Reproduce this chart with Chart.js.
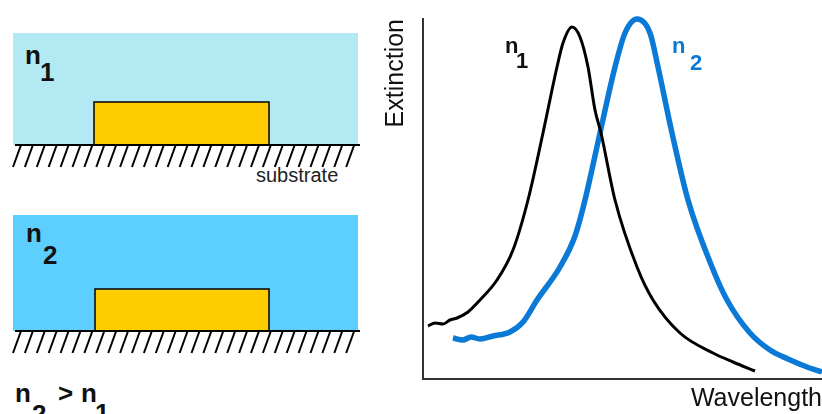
<!DOCTYPE html>
<html lang="en">
<head>
    <meta charset="UTF-8">
    <title>Plasmon Extinction vs Refractive Index</title>
    <script src="https://cdn.jsdelivr.net/npm/chart.js"></script>
    <style>
        body {
            margin: 0;
            background: #fff;
            font-family: "Liberation Sans", Arial, sans-serif;
        }

        .page {
            position: relative;
            width: 822px;
            height: 414px;
            overflow: hidden;
        }

        .sketch {
            position: absolute;
            left: 0;
            top: 0;
        }

        .overlay {
            position: absolute;
            left: 0;
            top: 0;
            pointer-events: none;
        }

        .chart-box {
            position: absolute;
            left: 370px;
            top: 0;
            width: 452px;
            height: 414px;
        }

        svg text {
            font-family: "Liberation Sans", Arial, sans-serif;
            font-weight: bold;
        }
    </style>
</head>
<body>
<div class="page">
    <!-- left side: particle on substrate in two media -->
    <svg class="sketch" width="370" height="414">
        <rect x="13" y="33" width="345" height="112" fill="#b3e9f2"/>
        <rect x="94" y="102" width="175" height="43" fill="#ffcc00" stroke="#000" stroke-width="1.5"/>
        <line x1="15" y1="145" x2="360" y2="145" stroke="#000" stroke-width="2"/>
        <g id="hatch1"></g>
        <text x="25" y="64" font-size="26" fill="#111">n</text>
        <text x="40" y="81" font-size="26" fill="#111">1</text>
        <text x="256" y="182" font-size="20" fill="#222" style="font-weight:normal">substrate</text>

        <rect x="13" y="215" width="345" height="116" fill="#5ccffe"/>
        <rect x="95" y="289" width="174" height="42" fill="#ffcc00" stroke="#000" stroke-width="1.5"/>
        <line x1="15" y1="331" x2="360" y2="331" stroke="#000" stroke-width="2"/>
        <g id="hatch2"></g>
        <text x="26" y="242" font-size="26" fill="#111">n</text>
        <text x="43" y="264" font-size="26" fill="#111">2</text>

        <text x="15" y="402" font-size="26" fill="#111">n</text>
        <text x="32" y="423" font-size="26" fill="#111">2</text>
        <text x="58" y="402" font-size="26" fill="#111">&gt;</text>
        <text x="81" y="402" font-size="26" fill="#111">n</text>
        <text x="95" y="422" font-size="26" fill="#111">1</text>
    </svg>

    <div class="chart-box">
        <canvas id="extinctionChart" width="452" height="414"></canvas>
    </div>

    <!-- curve labels -->
    <svg class="overlay" width="822" height="414">
        <text x="505" y="53" font-size="22" fill="#111">n</text>
        <text x="516" y="68" font-size="22" fill="#111">1</text>
        <text x="672" y="53" font-size="22" fill="#0a7ad6">n</text>
        <text x="690" y="70" font-size="22" fill="#0a7ad6">2</text>
    </svg>
</div>

<script>
    // extinction spectra, arbitrary units (wavelength 0..400, extinction 0..360)
    const n1Wavelength = [5, 12, 20, 27, 34, 45, 57, 74, 90, 105, 120, 134, 140, 149, 157, 165, 172, 178, 192, 214, 230, 257, 290, 310, 332];
    const n1Extinction = [53, 56, 55, 59, 61, 67, 79, 99, 129, 179, 246, 312, 336, 352, 342, 312, 269, 246, 179, 112, 79, 46, 26, 17, 8];

    const n2Wavelength = [30, 40, 48, 57, 70, 87, 100, 114, 137, 152, 162, 177, 192, 202, 214, 227, 235, 249, 265, 289, 304, 327, 347, 365, 384, 399];
    const n2Extinction = [41, 39, 42, 40, 43, 47, 57, 79, 112, 143, 179, 246, 312, 346, 360, 346, 312, 246, 179, 112, 79, 46, 29, 20, 12, 7];

    const axisRange = { xMax: 399, yMax: 360 };

    // hatch marks under each substrate line
    function drawHatch(groupId, baseY) {
        const g = document.getElementById(groupId);
        let html = '';
        for (let i = 0; i < 29; i++) {
            const top = 21 + i * 11.9;
            html += '<line x1="' + (top - 8) + '" y1="' + (baseY + 22) + '" x2="' + top + '" y2="' + baseY + '" stroke="#000" stroke-width="2"/>';
        }
        g.innerHTML = html;
    }
    drawHatch('hatch1', 145);
    drawHatch('hatch2', 331);

    function toPoints(xs, ys) {
        return xs.map((x, i) => ({ x: x, y: ys[i] }));
    }

    const ctx = document.getElementById('extinctionChart').getContext('2d');
    new Chart(ctx, {
        type: 'line',
        data: {
            datasets: [
                {
                    label: 'n1',
                    data: toPoints(n1Wavelength, n1Extinction),
                    borderColor: '#000',
                    borderWidth: 3,
                    pointRadius: 0,
                    cubicInterpolationMode: 'monotone',
                    clip: false
                },
                {
                    label: 'n2',
                    data: toPoints(n2Wavelength, n2Extinction),
                    borderColor: '#0a7ad6',
                    borderWidth: 5.5,
                    pointRadius: 0,
                    cubicInterpolationMode: 'monotone',
                    clip: { left: 5, top: 5, right: 0, bottom: 5 }
                }
            ]
        },
        options: {
            responsive: false,
            animation: false,
            layout: { padding: { top: 19, right: 0, left: 0, bottom: 0 } },
            plugins: {
                legend: { display: false },
                tooltip: { enabled: false }
            },
            scales: {
                x: {
                    type: 'linear',
                    min: 0,
                    max: axisRange.xMax,
                    grid: { display: false },
                    border: { display: true, color: '#333', width: 2 },
                    ticks: { display: false },
                    title: {
                        display: true,
                        text: 'Wavelength',
                        align: 'end',
                        color: '#111',
                        font: { family: '"Liberation Sans", Arial, sans-serif', size: 25 },
                        padding: { top: 0, bottom: 0 }
                    },
                    afterFit: (scale) => { scale.height = 35; }
                },
                y: {
                    min: 0,
                    max: axisRange.yMax,
                    grid: { display: false },
                    border: { display: true, color: '#333', width: 2 },
                    ticks: { display: false },
                    title: {
                        display: true,
                        text: 'Extinction',
                        align: 'end',
                        color: '#111',
                        font: { family: '"Liberation Sans", Arial, sans-serif', size: 25 },
                        padding: { top: 11, bottom: 0 }
                    },
                    afterFit: (scale) => { scale.width = 53; }
                }
            }
        }
    });
</script>
</body>
</html>
